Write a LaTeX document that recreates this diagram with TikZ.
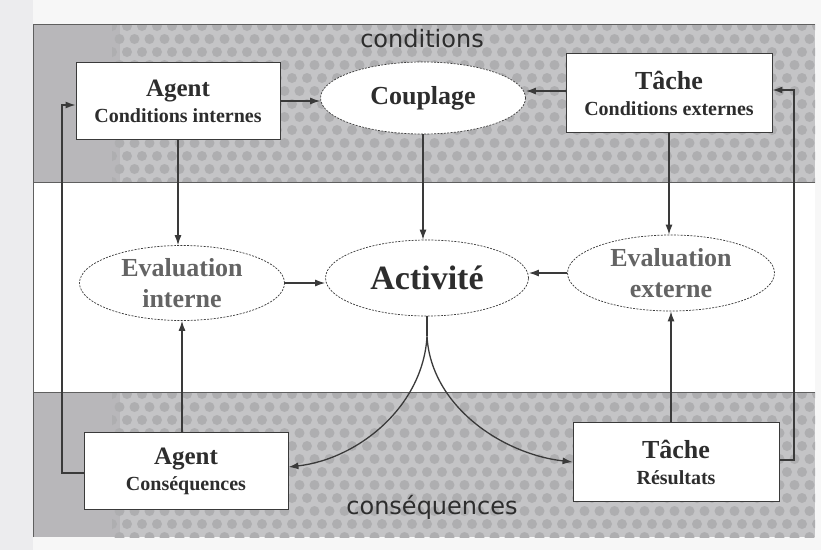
\documentclass[tikz,border=0pt]{standalone}
\usepackage{fontspec}
\setmainfont{Liberation Serif}
\newfontfamily\labfont{DejaVu Sans}
\usetikzlibrary{shapes.geometric,arrows.meta}
\definecolor{pagec}{RGB}{247,247,247}
\definecolor{marginc}{RGB}{236,236,238}
\definecolor{bandc}{RGB}{196,196,198}
\definecolor{bandl}{RGB}{184,183,186}
\definecolor{dotc}{RGB}{174,174,176}
\definecolor{linec}{RGB}{58,58,58}
\definecolor{framec}{RGB}{95,95,95}
\definecolor{txtc}{RGB}{45,45,45}
\definecolor{evalc}{RGB}{100,100,100}
\begin{document}
\begin{tikzpicture}[x=1pt,y=-1pt,
  box/.style={draw=linec,line width=0.9pt,fill=white,inner sep=0pt,
    minimum width=204pt,minimum height=77pt,align=center,text=txtc,
    font=\bfseries\fontsize{20}{26}\selectfont},
  oval/.style={ellipse,draw=linec,dash pattern=on 2pt off 1.3pt,line width=0.7pt,
    fill=white,inner sep=0pt,minimum width=205pt,minimum height=75pt,align=center,
    font=\bfseries},
  arr/.style={-{Latex[length=10pt,width=7pt]},draw=linec,line width=1.3pt},
  plain/.style={draw=linec,line width=1.3pt},
  bandlabel/.style={font=\labfont\fontsize{24}{26}\selectfont,text=txtc,anchor=base}
]
\useasboundingbox (0,0) rectangle (821,550);
% page
\fill[pagec] (0,0) rectangle (821,550);
\fill[marginc] (0,0) rectangle (33,550);
% bands
\fill[bandc] (33,24) rectangle (815,182);
\fill[bandc] (33,392) rectangle (815,537);
\fill[bandl] (33,24) rectangle (120,182);
\fill[bandl] (33,392) rectangle (120,537);
\fill[white] (33,182) rectangle (815,392);
\begin{scope}
  \clip (112,24) rectangle (815,182);
  \foreach \j [evaluate=\j as \off using {mod(\j,2)*7.5}] in {0,...,13}
    \foreach \i in {0,...,47}
      \fill[dotc] (112+\i*15+\off, 26+\j*13) circle (5);
\end{scope}
\begin{scope}
  \clip (112,392) rectangle (815,537);
  \foreach \j [evaluate=\j as \off using {mod(\j,2)*7.5}] in {0,...,12}
    \foreach \i in {0,...,47}
      \fill[dotc] (112+\i*15+\off, 394+\j*13) circle (5);
\end{scope}
\draw[framec,line width=0.8pt] (33,537) -- (33,24) -- (815,24);
\draw[framec,line width=0.8pt] (33,182) -- (815,182);
\draw[framec,line width=0.8pt] (33,392) -- (815,392);
% band labels
\node[bandlabel] (lc) at (422,47) {conditions};
\node[bandlabel] (lq) at (432,514) {conséquences};
% nodes
\node[box] (ag) at (178,101) {{\fontsize{25}{26}\selectfont Agent}\\Conditions internes};
\node[oval,minimum height=72pt,text=txtc] (cp) at (423,98) {\fontsize{26}{28}\selectfont Couplage};
\node[box,minimum width=206pt,minimum height=79pt] (tc) at (669,93) {{\fontsize{26}{26}\selectfont Tâche}\\Conditions externes};
\node[oval,text=evalc,font=\bfseries\fontsize{26}{31}\selectfont] (evi) at (182,283) {Evaluation\\interne};
\node[oval,minimum width=203pt,minimum height=76pt,text=txtc] (act) at (427,278) {\fontsize{34}{36}\selectfont Activité};
\node[oval,minimum width=207pt,minimum height=76pt,text=evalc,font=\bfseries\fontsize{26}{31}\selectfont] (eve) at (671,273) {Evaluation\\externe};
\node[box,minimum height=77pt] (agc) at (186,471) {{\fontsize{25}{26}\selectfont Agent}\\Conséquences};
\node[box,minimum width=206pt,minimum height=79pt] (tr) at (676,462) {{\fontsize{26}{26}\selectfont Tâche}\\Résultats};
% coordinates
\coordinate (split) at ([yshift=-20pt]act.south);
\coordinate (lcorner) at (62,473);
\coordinate (rcorner) at (794,460);
% connectors
\draw[arr] (ag.east) -- (ag.east -| cp.west);
\draw[arr] ([yshift=2pt]tc.west) -- ([yshift=2pt]tc.west -| cp.east);
\draw[arr] (ag.south) -- (ag.south |- evi.north);
\draw[arr] (cp.south) -- (cp.south |- act.north);
\draw[arr] (tc.south) -- (tc.south |- eve.north);
\draw[arr] (evi.east) -- (evi.east -| act.west);
\draw[arr] (eve.west) -- (eve.west -| act.east);
\draw[arr] (agc.north -| evi.south) -- (evi.south);
\draw[arr] (tr.north -| eve.south) -- (eve.south);
\draw[plain] (act.south) -- (split);
\draw[arr] (split) .. controls +(-4,70) and +(70,-8) .. ([yshift=4pt]agc.east);
\draw[arr] (split) .. controls +(4,70) and +(-70,-8) .. (tr.west);
\draw[arr] (agc.west |- lcorner) -- (lcorner) |- ([yshift=-4pt]ag.west);
\draw[arr] (tr.east |- rcorner) -- (rcorner) |- ([yshift=3pt]tc.east);
\end{tikzpicture}
\end{document}
